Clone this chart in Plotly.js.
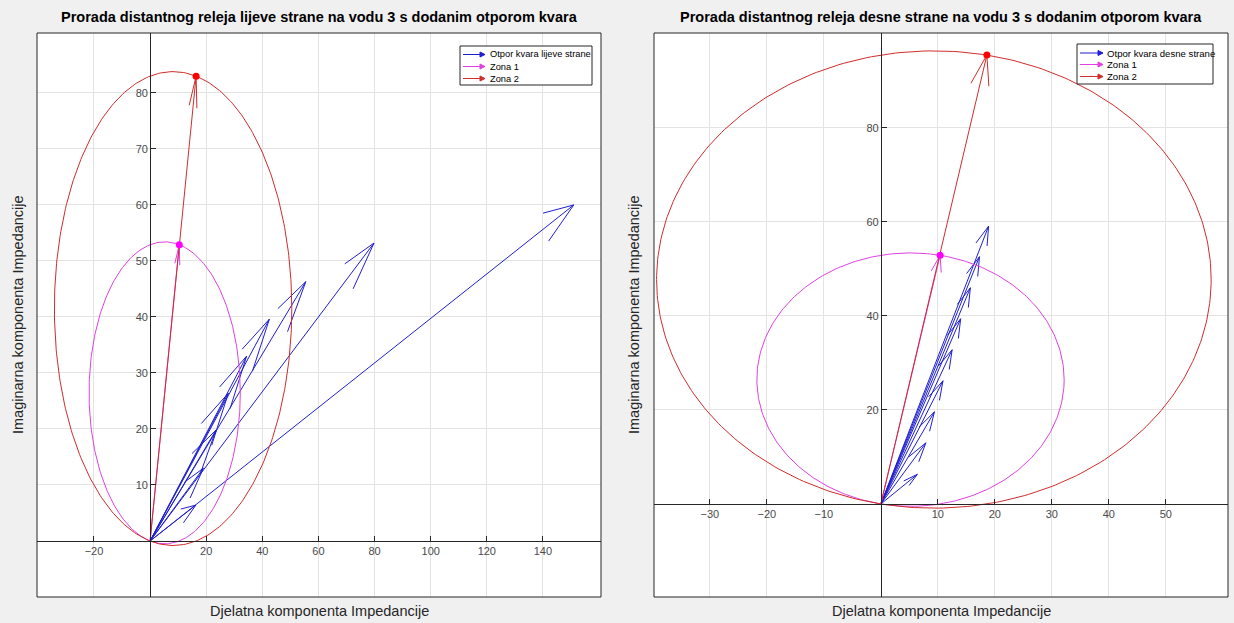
<!DOCTYPE html>
<html><head><meta charset="utf-8">
<script src="https://cdn.plot.ly/plotly-3.0.1.min.js"></script>
<style>html,body{margin:0;padding:0;background:#f0f0f0;} #chart{width:1234px;height:623px;}</style>
</head><body><div id="chart"></div>
<script>
// ---------- data ----------
// Left relay: fault impedance with added fault resistance (R, X)
const leftFaultR = [16.3, 19.0, 23.5, 27.9, 34.4, 42.5, 55.5, 79.8, 151.0];
const leftFaultX = [6.4, 13.0, 19.8, 26.4, 33.0, 39.6, 46.3, 53.2, 60.0];
// Right relay
const rightFaultR = [6.4, 7.9, 9.4, 10.9, 12.5, 14.0, 15.7, 17.3, 18.9];
const rightFaultX = [6.3, 13.0, 19.6, 26.2, 32.8, 39.4, 46.0, 52.6, 59.1];
// Zone reach impedances (R, X)
const zone1R = [10.4];
const zone1X = [52.9];
const zone2LeftR = [16.4];
const zone2LeftX = [83.0];
const zone2RightR = [18.6];
const zone2RightX = [95.5];
// Tick labels
const leftXTicks = [-20, 20, 40, 60, 80, 100, 120, 140];
const leftYTicks = [10, 20, 30, 40, 50, 60, 70, 80];
const rightXTicks = [-30, -20, -10, 10, 20, 30, 40, 50];
const rightYTicks = [20, 40, 60, 80];
// Texts
const leftTitle = 'Prorada distantnog releja lijeve strane na vodu 3 s dodanim otporom kvara';
const rightTitle = 'Prorada distantnog releja desne strane na vodu 3 s dodanim otporom kvara';
const xLabel = 'Djelatna komponenta Impedancije';
const yLabel = 'Imaginarna komponenta Impedancije';
const leftSeriesName = 'Otpor kvara lijeve strane';
const rightSeriesName = 'Otpor kvara desne strane';
const zone1Name = 'Zona 1';
const zone2Name = 'Zona 2';

// ---------- helpers ----------
const FONT = 'Liberation Sans, Arial, Helvetica, sans-serif';
const BLUE = '#1f1fd0', MAG = '#e040e0', RED = '#d02c2c';
const W = 1234, H = 623;
const px = v => v / W, py = v => 1 - v / H;

function arrows(R, X) {
  const lens = R.map((r, i) => Math.hypot(r, X[i]));
  const Lmax = Math.max(...lens);
  const xs = [], ys = [];
  R.forEach((r, i) => {
    const v = X[i], L = lens[i];
    const ux = r / L, uy = v / L, qx = -uy, qy = ux;
    const a = Math.min(0.3 * L, 0.066 * Lmax), b = 0.25 * a;
    xs.push(0, r, null, r - a * ux + b * qx, r, r - a * ux - b * qx, null);
    ys.push(0, v, null, v - a * uy + b * qy, v, v - a * uy - b * qy, null);
  });
  return {x: xs, y: ys};
}
function mho(R, X) {
  const cx = R[0] / 2, cy = X[0] / 2, rad = Math.hypot(R[0], X[0]) / 2;
  const xs = [], ys = [];
  for (let k = 0; k <= 360; k++) {
    const t = k * Math.PI / 180;
    xs.push(cx + rad * Math.cos(t)); ys.push(cy + rad * Math.sin(t));
  }
  return {x: xs, y: ys};
}
function axisPos(range, domain) {
  return domain[0] + (0 - range[0]) / (range[1] - range[0]) * (domain[1] - domain[0]);
}

// ---------- layout geometry ----------
const leftXDomain = [37 / W, 601 / W];
const rightXDomain = [654 / W, 1228 / W];
const yDomain = [26 / H, 590 / H];
const leftXRange = [-40.3, 160.7];
const leftYRange = [-10.0, 90.7];
const rightXRange = [-39.8, 60.9];
const rightYRange = [-19.8, 100.2];

function panelTraces(R, X, seriesName, z2R, z2X, xa, ya) {
  const a = arrows(R, X), z1 = arrows(zone1R, zone1X), z2 = arrows(z2R, z2X);
  const c1 = mho(zone1R, zone1X), c2 = mho(z2R, z2X);
  return [
    {x: a.x, y: a.y, mode: 'lines', name: seriesName, line: {color: BLUE, width: 1}, xaxis: xa, yaxis: ya},
    {x: z1.x, y: z1.y, mode: 'lines', name: zone1Name, line: {color: MAG, width: 1}, xaxis: xa, yaxis: ya},
    {x: z2.x, y: z2.y, mode: 'lines', name: zone2Name, line: {color: RED, width: 1}, xaxis: xa, yaxis: ya},
    {x: c1.x, y: c1.y, mode: 'lines', line: {color: MAG, width: 1}, xaxis: xa, yaxis: ya},
    {x: c2.x, y: c2.y, mode: 'lines', line: {color: RED, width: 1}, xaxis: xa, yaxis: ya},
    {x: zone1R, y: zone1X, mode: 'markers', marker: {color: '#ff00ff', size: 7}, xaxis: xa, yaxis: ya},
    {x: z2R, y: z2X, mode: 'markers', marker: {color: '#ff0000', size: 7}, xaxis: xa, yaxis: ya}
  ];
}

const data = [
  ...panelTraces(leftFaultR, leftFaultX, leftSeriesName, zone2LeftR, zone2LeftX, 'x', 'y'),
  ...panelTraces(rightFaultR, rightFaultX, rightSeriesName, zone2RightR, zone2RightX, 'x2', 'y2')
];

// ---------- MATLAB-style legend boxes (line + arrowhead + text) ----------
function legendBox(box, rows, lineX0, lineX1, textX, names, fontSize) {
  const colors = [BLUE, MAG, RED];
  const shapes = [{type: 'rect', xref: 'paper', yref: 'paper', x0: px(box[0]), x1: px(box[1]), y0: py(box[3]), y1: py(box[2]),
    fillcolor: '#ffffff', line: {color: '#262626', width: 1}, layer: 'above'}];
  const ann = [];
  rows.forEach((ry, i) => {
    shapes.push({type: 'line', xref: 'paper', yref: 'paper', x0: px(lineX0), x1: px(lineX1), y0: py(ry), y1: py(ry),
      line: {color: colors[i], width: 1}, layer: 'above'});
    shapes.push({type: 'path', xref: 'paper', yref: 'paper',
      path: 'M ' + px(lineX1 - 5) + ' ' + py(ry - 2.5) + ' L ' + px(lineX1) + ' ' + py(ry) + ' L ' + px(lineX1 - 5) + ' ' + py(ry + 2.5) + ' Z',
      fillcolor: colors[i], line: {color: colors[i], width: 1}, layer: 'above'});
    ann.push({text: names[i], xref: 'paper', yref: 'paper', x: px(textX), y: py(ry), xanchor: 'left', yanchor: 'middle',
      showarrow: false, font: {family: FONT, size: fontSize, color: '#000000'}});
  });
  return {shapes, ann};
}
const legL = legendBox([460, 592, 46, 85], [54.5, 66.5, 78.5], 463, 485, 488, [leftSeriesName, zone1Name, zone2Name], 9.3);
const legR = legendBox([1077, 1213, 44, 84], [53, 64.5, 76.5], 1080, 1103, 1104.5, [rightSeriesName, zone1Name, zone2Name], 9.6);

const axisCommon = {
  showgrid: true, gridcolor: '#e3e3e3', gridwidth: 1, zeroline: false,
  showline: true, linecolor: '#262626', linewidth: 1,
  ticks: 'inside', ticklen: 5, tickcolor: '#262626', tickwidth: 1,
  tickfont: {family: FONT, size: 11, color: '#4a4a4a'},
  anchor: 'free', fixedrange: true
};

const layout = {
  width: W, height: H,
  margin: {l: 0, r: 0, t: 0, b: 0},
  showlegend: false,
  paper_bgcolor: '#f0f0f0', plot_bgcolor: '#ffffff',
  xaxis: Object.assign({}, axisCommon, {domain: leftXDomain, range: leftXRange, tickvals: leftXTicks, position: axisPos(leftYRange, yDomain)}),
  yaxis: Object.assign({}, axisCommon, {domain: yDomain, range: leftYRange, tickvals: leftYTicks, position: axisPos(leftXRange, leftXDomain)}),
  xaxis2: Object.assign({}, axisCommon, {domain: rightXDomain, range: rightXRange, tickvals: rightXTicks, position: axisPos(rightYRange, yDomain)}),
  yaxis2: Object.assign({}, axisCommon, {domain: yDomain, range: rightYRange, tickvals: rightYTicks, position: axisPos(rightXRange, rightXDomain)}),
  shapes: [
    {type: 'rect', xref: 'x domain', yref: 'y domain', x0: 0, x1: 1, y0: 0, y1: 1, line: {color: '#262626', width: 1}},
    {type: 'rect', xref: 'x2 domain', yref: 'y2 domain', x0: 0, x1: 1, y0: 0, y1: 1, line: {color: '#262626', width: 1}},
    ...legL.shapes, ...legR.shapes
  ],
  annotations: [
    {text: '<b>' + leftTitle + '</b>', xref: 'paper', yref: 'paper', x: (leftXDomain[0] + leftXDomain[1]) / 2, y: py(17), showarrow: false, xanchor: 'center', yanchor: 'middle', font: {family: FONT, size: 14.5, color: '#000000'}},
    {text: '<b>' + rightTitle + '</b>', xref: 'paper', yref: 'paper', x: (rightXDomain[0] + rightXDomain[1]) / 2, y: py(17), showarrow: false, xanchor: 'center', yanchor: 'middle', font: {family: FONT, size: 14.5, color: '#000000'}},
    {text: xLabel, xref: 'paper', yref: 'paper', x: (leftXDomain[0] + leftXDomain[1]) / 2, y: py(611), showarrow: false, xanchor: 'center', yanchor: 'middle', font: {family: FONT, size: 14.5, color: '#262626'}},
    {text: xLabel, xref: 'paper', yref: 'paper', x: (rightXDomain[0] + rightXDomain[1]) / 2, y: py(611), showarrow: false, xanchor: 'center', yanchor: 'middle', font: {family: FONT, size: 14.5, color: '#262626'}},
    {text: yLabel, xref: 'paper', yref: 'paper', x: px(18), y: (yDomain[0] + yDomain[1]) / 2, textangle: -90, showarrow: false, xanchor: 'center', yanchor: 'middle', font: {family: FONT, size: 14.5, color: '#262626'}},
    {text: yLabel, xref: 'paper', yref: 'paper', x: px(634), y: (yDomain[0] + yDomain[1]) / 2, textangle: -90, showarrow: false, xanchor: 'center', yanchor: 'middle', font: {family: FONT, size: 14.5, color: '#262626'}},
    ...legL.ann, ...legR.ann
  ]
};

Plotly.newPlot('chart', data, layout, {displayModeBar: false, staticPlot: true});
</script></body></html>
